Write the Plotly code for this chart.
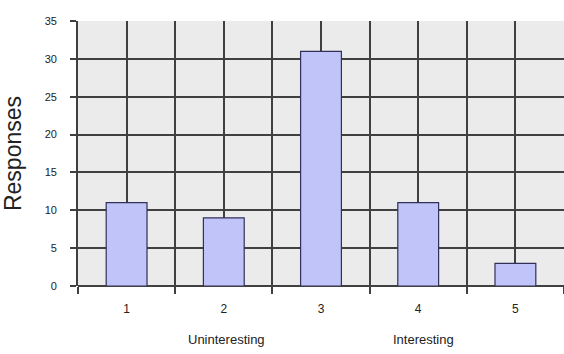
import plotly.graph_objects as go

# Survey ratings on a 1-5 scale and the number of responses for each
ratings = [1, 2, 3, 4, 5]
rating_labels = ["1", "2", "3", "4", "5"]
responses = [11, 9, 31, 11, 3]
y_ticks = [0, 5, 10, 15, 20, 25, 30, 35]
scale_notes = ["Uninteresting", "Interesting"]
scale_note_pos = [2.03, 4.05]

grid_color = "#404040"
font_family = "Liberation Sans, Arial, sans-serif"

fig = go.Figure(
    go.Bar(
        x=ratings,
        y=responses,
        width=0.42,
        marker=dict(color="#c0c4f8", line=dict(color="#30305a", width=1.2)),
        hoverinfo="x+y",
    )
)

for txt, xpos in zip(scale_notes, scale_note_pos):
    fig.add_annotation(
        x=xpos, xref="x", y=-0.2, yref="paper", yanchor="middle",
        text=txt, showarrow=False,
        font=dict(family=font_family, size=13, color="#222222"),
    )

fig.update_layout(
    width=564,
    height=354,
    margin=dict(l=78, r=0, t=21, b=68),
    paper_bgcolor="white",
    plot_bgcolor="#ebebeb",
    showlegend=False,
    font=dict(family=font_family, color="#222222"),
)

fig.update_xaxes(
    range=[0.5, 5.5],
    tickvals=ratings,
    ticktext=rating_labels,
    ticks="",
    showgrid=True,
    gridcolor=grid_color,
    gridwidth=1.8,
    showline=False,
    zeroline=False,
    ticklabelstandoff=14,
    tickfont=dict(size=12, color="#222222"),
    minor=dict(
        tick0=0.5, dtick=1, ticks="outside", ticklen=7,
        tickcolor=grid_color, tickwidth=1.8,
        showgrid=True, gridcolor=grid_color, gridwidth=1.8,
    ),
)

fig.update_yaxes(
    range=[0, 35],
    tickvals=y_ticks,
    ticks="outside",
    ticklen=6,
    tickcolor=grid_color,
    tickwidth=1.8,
    showgrid=True,
    gridcolor=grid_color,
    gridwidth=1.8,
    zeroline=True,
    zerolinecolor=grid_color,
    zerolinewidth=1.8,
    showline=True,
    linecolor=grid_color,
    linewidth=1.8,
    ticklabelstandoff=11,
    tickfont=dict(size=11, color="#222222"),
    title=dict(text="Responses", font=dict(size=23, color="#222222"), standoff=18),
)

fig.write_html("out.html")
